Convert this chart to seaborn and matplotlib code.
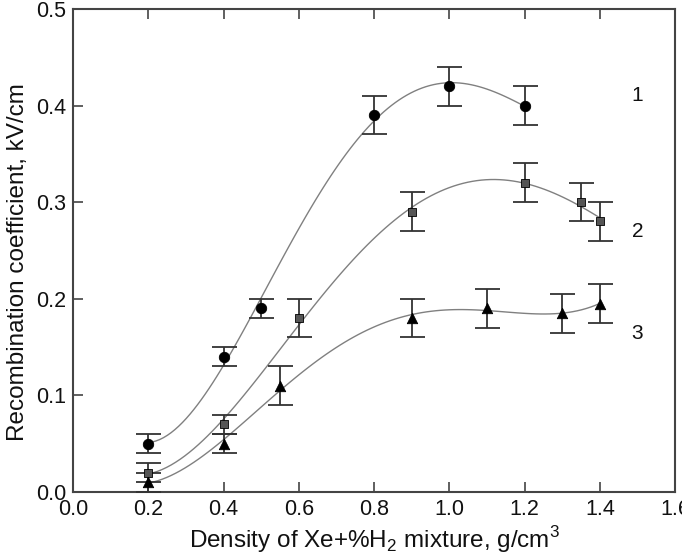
import matplotlib
matplotlib.use("Agg")
import matplotlib.pyplot as plt
import seaborn as sns
import numpy as np
import pandas as pd

# Data
x1 = [0.2, 0.4, 0.5, 0.8, 1.0, 1.2]
y1 = [0.05, 0.14, 0.19, 0.39, 0.42, 0.40]
e1 = [0.01, 0.01, 0.01, 0.02, 0.02, 0.02]

x2 = [0.2, 0.4, 0.6, 0.9, 1.2, 1.35, 1.4]
y2 = [0.02, 0.07, 0.18, 0.29, 0.32, 0.30, 0.28]
e2 = [0.01, 0.01, 0.02, 0.02, 0.02, 0.02, 0.02]

x3 = [0.2, 0.4, 0.55, 0.9, 1.1, 1.3, 1.4]
y3 = [0.01, 0.05, 0.11, 0.18, 0.19, 0.185, 0.195]
e3 = [0.01, 0.01, 0.02, 0.02, 0.02, 0.02, 0.02]

curve_labels = ["1", "2", "3"]
label_x = [1.5, 1.5, 1.5]
label_y = [0.41, 0.27, 0.164]

xticks = [0.0, 0.2, 0.4, 0.6, 0.8, 1.0, 1.2, 1.4, 1.6]
yticks = [0.0, 0.1, 0.2, 0.3, 0.4, 0.5]

sns.set_style("ticks")
plt.rcParams['font.family'] = ['Liberation Sans', 'DejaVu Sans']
plt.rcParams['mathtext.fontset'] = 'custom'
plt.rcParams['mathtext.rm'] = 'Liberation Sans'

fig = plt.figure(figsize=(6.82, 5.55), dpi=100)
ax = fig.add_axes([0.107, 0.1135, 0.883, 0.8705])

series = [
    (x1, y1, e1, 'o', '#000000', 7.5, 4),
    (x2, y2, e2, 's', '#555555', 5.5, 4),
    (x3, y3, e3, '^', '#000000', 7.5, 4),
]

for xs, ys, es, mk, col, ms, order in series:
    df = pd.DataFrame({'x': xs, 'y': ys})
    sns.regplot(data=df, x='x', y='y', order=order, ci=None, scatter=False,
                truncate=True, ax=ax, line_kws=dict(color='#808080', lw=1.0))
    ax.errorbar(xs, ys, yerr=es, fmt='none', ecolor='#333333', elinewidth=1.3,
                capsize=9, capthick=1.3, zorder=3)
    sns.scatterplot(data=df, x='x', y='y', marker=mk, color=col, s=ms**2,
                    edgecolor='#000000', linewidth=0.6, ax=ax, zorder=4)

for t, lx, ly in zip(curve_labels, label_x, label_y):
    ax.text(lx, ly, t, fontsize=15, ha='center', va='center', color='#111111')

ax.set_xlim(0.0, 1.6)
ax.set_ylim(0.0, 0.5)
ax.set_xticks(xticks)
ax.set_yticks(yticks)
ax.set_xticklabels([f"{v:.1f}" for v in xticks])
ax.set_yticklabels([f"{v:.1f}" for v in yticks])
ax.tick_params(direction='in', length=7, width=1.2, colors='#444444',
               labelcolor='#111111', labelsize=15.5, top=True, right=False, pad=5)
ax.tick_params(axis='x', labeltop=False)
for s in ax.spines.values():
    s.set_visible(True)
    s.set_color('#444444')
    s.set_linewidth(1.5)

ax.set_xlabel("Density of Xe+%H$_2$ mixture, g/cm$^3$", fontsize=17.5, color='#111111', labelpad=3)
ax.set_ylabel("Recombination coefficient, kV/cm", fontsize=17.5, color='#111111', labelpad=5)
ax.yaxis.set_label_coords(-0.073, 0.475)

fig.savefig("out.png", dpi=100)
